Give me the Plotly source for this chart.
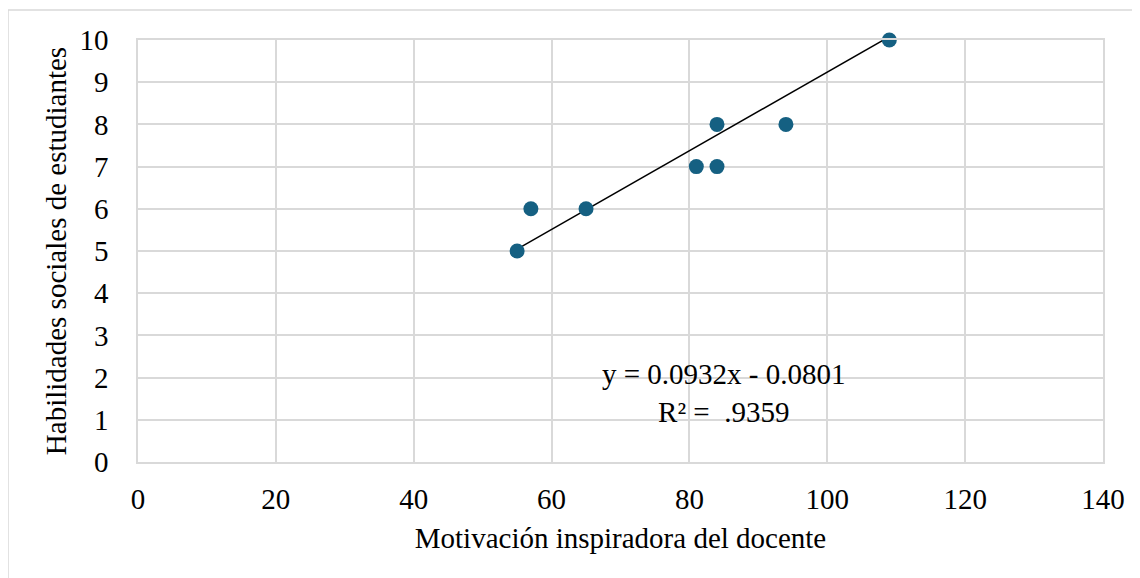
import plotly.graph_objects as go

x_vals = [55, 57, 65, 81, 84, 84, 94, 109]
y_vals = [5, 6, 6, 7, 7, 8, 8, 10]
slope = 0.0932
intercept = -0.0801
eq_text = "y = 0.0932x - 0.0801<br>R² =  .9359"
x_ticks = [0, 20, 40, 60, 80, 100, 120, 140]
y_ticks = list(range(0, 11))

xmin, xmax = min(x_vals), max(x_vals)
fig = go.Figure()
fig.add_trace(go.Scatter(x=[xmin, xmax], y=[slope * xmin + intercept, slope * xmax + intercept],
                         mode="lines", line=dict(color="black", width=1.5), hoverinfo="skip",
                         cliponaxis=False))
fig.add_trace(go.Scatter(x=x_vals, y=y_vals, mode="markers", cliponaxis=False,
                         marker=dict(color="#156082", size=15)))

grid = "#d9d9d9"
W, H = 1132, 570
L, R, T, B = 130, 37, 32, 116
pw, ph = W - L - R, H - T - B
fig.update_layout(
    width=W, height=H, showlegend=False,
    paper_bgcolor="white", plot_bgcolor="white",
    margin=dict(l=L, r=R, t=T, b=B),
    font=dict(family="Liberation Serif, Times New Roman, serif", size=29, color="black"),
    xaxis=dict(range=[0, 140], tickvals=x_ticks, showgrid=True, gridcolor=grid, gridwidth=1.5,
               zeroline=False, showline=True, linecolor=grid, linewidth=1.5, mirror=True,
               ticks="outside", ticklen=10, tickcolor="rgba(0,0,0,0)",
               title=dict(text="Motivación inspiradora del docente", font=dict(size=29), standoff=14)),
    yaxis=dict(range=[0, 10], tickvals=y_ticks, showgrid=True, gridcolor=grid, gridwidth=1.5,
               zeroline=False, showline=True, linecolor=grid, linewidth=1.5, mirror=True,
               ticks="outside", ticklen=22, tickcolor="rgba(0,0,0,0)",
               title=dict(text="Habilidades sociales de estudiantes", font=dict(size=29), standoff=4)),
    annotations=[dict(x=85, y=1.63, xref="x", yref="y", text=eq_text, showarrow=False,
                      font=dict(size=29), align="center")],
    shapes=[dict(type="rect", xref="paper", yref="paper",
                 x0=-L / pw, y0=-(B + 20) / ph, x1=(pw + R + 20) / pw, y1=1 + (T - 2) / ph,
                 line=dict(color=grid, width=1.5), layer="below")],
)
fig.write_html("out.html")
